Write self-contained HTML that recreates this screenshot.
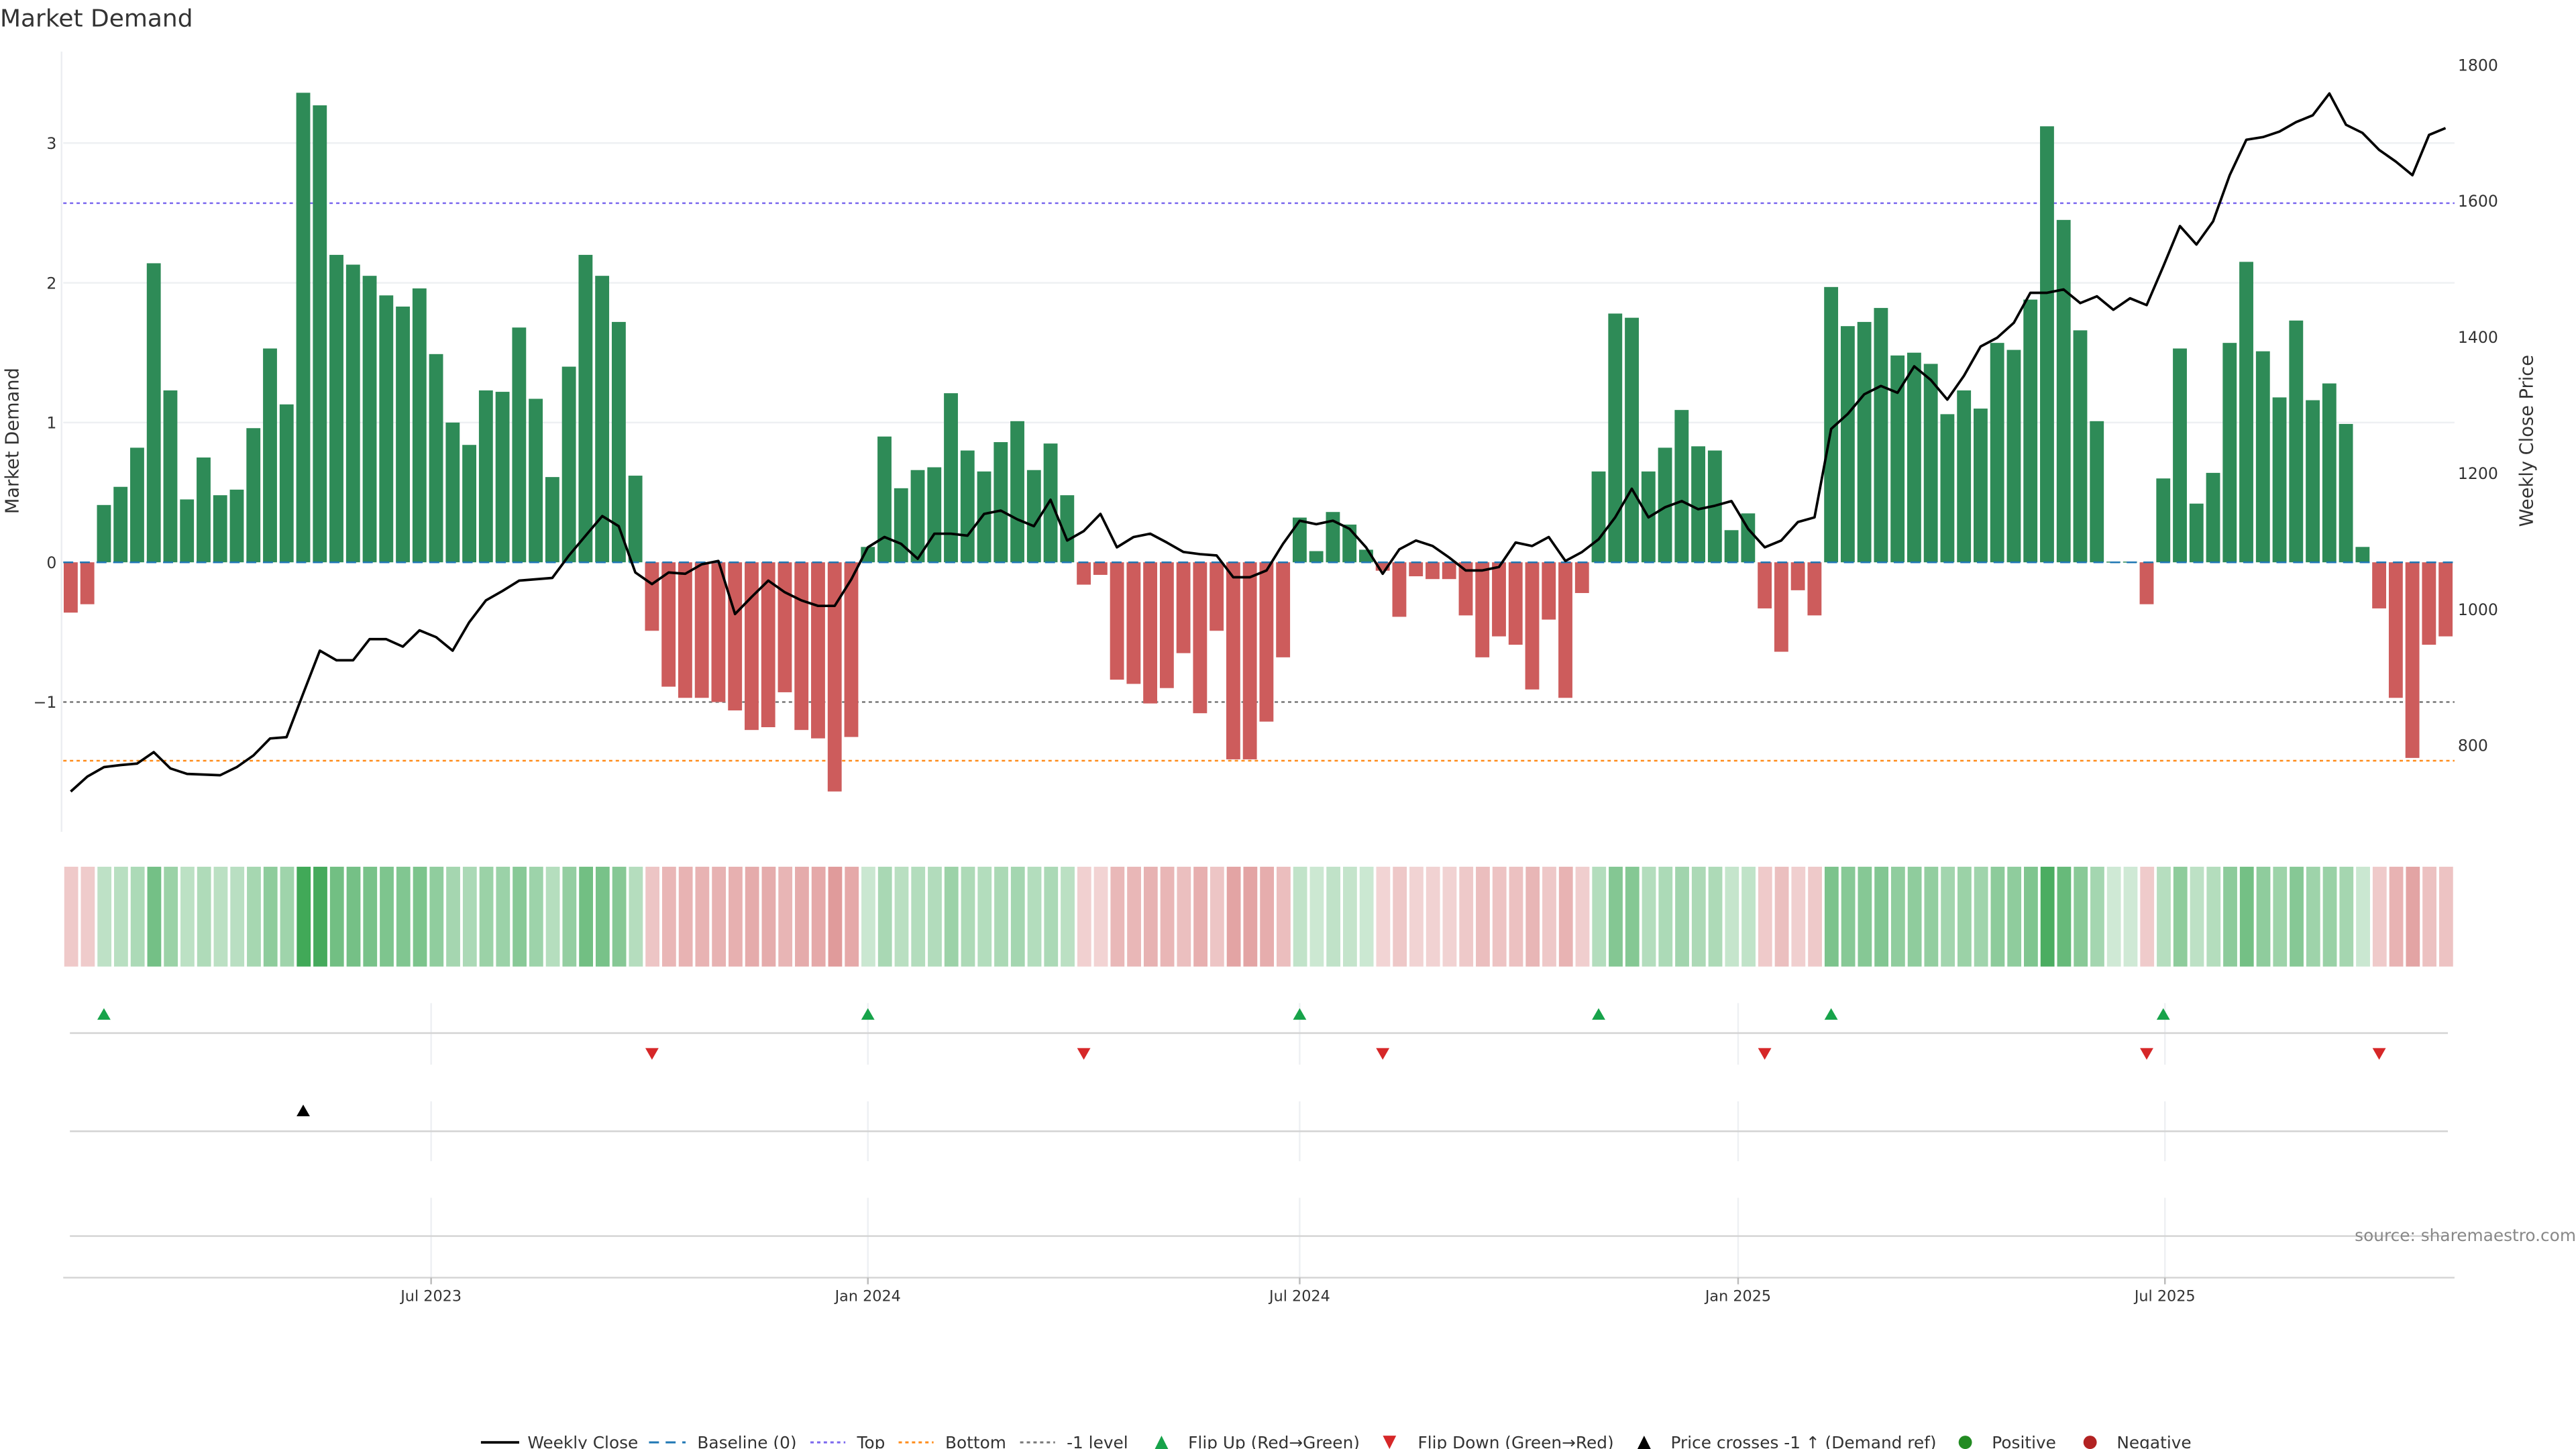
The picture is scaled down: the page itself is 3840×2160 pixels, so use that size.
<!DOCTYPE html>
<html><head><meta charset="utf-8"><title>Market Demand</title>
<style>
html,body{margin:0;padding:0;background:#fff;}
svg{display:block;font-family:"DejaVu Sans","Liberation Sans",sans-serif;}
</style></head>
<body>
<svg id="chart" width="3840" height="2160" viewBox="0 0 1548 871" preserveAspectRatio="none" xmlns="http://www.w3.org/2000/svg">
<g id="root"></g>
</svg>
<script>
// ---- data ----
const demand = [-0.36,-0.3,0.41,0.54,0.82,2.14,1.23,0.45,0.75,0.48,0.52,0.96,1.53,1.13,3.36,3.27,2.2,2.13,2.05,1.91,1.83,1.96,1.49,1.0,0.84,1.23,1.22,1.68,1.17,0.61,1.4,2.2,2.05,1.72,0.62,-0.49,-0.89,-0.97,-0.97,-1.0,-1.06,-1.2,-1.18,-0.93,-1.2,-1.26,-1.64,-1.25,0.11,0.9,0.53,0.66,0.68,1.21,0.8,0.65,0.86,1.01,0.66,0.85,0.48,-0.16,-0.09,-0.84,-0.87,-1.01,-0.9,-0.65,-1.08,-0.49,-1.41,-1.41,-1.14,-0.68,0.32,0.08,0.36,0.27,0.09,-0.06,-0.39,-0.1,-0.12,-0.12,-0.38,-0.68,-0.53,-0.59,-0.91,-0.41,-0.97,-0.22,0.65,1.78,1.75,0.65,0.82,1.09,0.83,0.8,0.23,0.35,-0.33,-0.64,-0.2,-0.38,1.97,1.69,1.72,1.82,1.48,1.5,1.42,1.06,1.23,1.1,1.57,1.52,1.88,3.12,2.45,1.66,1.01,0.005,0.005,-0.3,0.6,1.53,0.42,0.64,1.57,2.15,1.51,1.18,1.73,1.16,1.28,0.99,0.11,-0.33,-0.97,-1.4,-0.59,-0.53];
const weeklyClose = [732,754,768,771,773,790,766,758,757,756,768,785,810,812,876,939,925,925,956,956,945,969,959,939,981,1013,1027,1042,1044,1046,1079,1108,1137,1122,1054,1037,1054,1052,1066,1071,993,1018,1042,1025,1013,1005,1005,1044,1091,1106,1096,1074,1111,1111,1108,1140,1145,1132,1122,1161,1101,1115,1140,1091,1106,1111,1098,1084,1081,1079,1047,1047,1057,1096,1130,1125,1130,1118,1091,1052,1088,1101,1093,1076,1057,1057,1062,1098,1093,1106,1071,1084,1103,1135,1177,1135,1150,1159,1147,1152,1159,1118,1091,1101,1128,1135,1265,1287,1316,1328,1318,1357,1337,1308,1343,1386,1399,1421,1465,1465,1470,1450,1460,1440,1457,1447,1504,1563,1536,1570,1638,1690,1694,1702,1716,1726,1758,1712,1700,1675,1658,1638,1697,1707];
const flipUpIdx = [2,48,74,92,106,126];
const flipDownIdx = [35,61,79,102,125,139];
const priceCrossIdx = [14];
const xTickLabels = ["Jul 2023","Jan 2024","Jul 2024","Jan 2025","Jul 2025"];
const xTickIdx = [21.7,48.0,74.0,100.4,126.1];
const yTicksLeft = [3,2,1,0,-1];
const yTicksRight = [1800,1600,1400,1200,1000,800];
const topLevel = [2.57];
const bottomLevel = [-1.42];
const minusOneLevel = [-1];

// ---- scales ----
const NS="http://www.w3.org/2000/svg";
const root=document.getElementById('root');
const X0=42.5, DX=9.98;
const xs=i=>X0+i*DX;
const yL=v=>338-v*84;
const yR=p=>448-(p-800)*0.409;
const PL=38, PR=1475;
function el(tag,attrs,parent){const e=document.createElementNS(NS,tag);for(const k in attrs)e.setAttribute(k,attrs[k]);(parent||root).appendChild(e);return e;}
function txt(s,attrs,parent){const e=el('text',attrs,parent);e.textContent=s;return e;}

// title
let t=txt("Market Demand",{x:0,y:16,'font-size':14.5,fill:'#333'});



// gridlines
const grid=el('g',{});


[3,2,1].forEach(v=>{el('line',{x1:PL,x2:PR,y1:yL(v),y2:yL(v),stroke:'#eef0f3','stroke-width':1},grid);});
let la=el('line',{x1:37,x2:37,y1:31,y2:500,stroke:'#eceef1','stroke-width':1});



// left ticks
const lt=el('g',{});


yTicksLeft.forEach(v=>{txt(v<0?'\u2212'+Math.abs(v):String(v),{x:34,y:yL(v)+3.5,'font-size':9.5,fill:'#333','text-anchor':'end'},lt);});
let ylt=txt("Market Demand",{x:0,y:0,'font-size':11,fill:'#333','text-anchor':'middle',transform:'translate(11,265) rotate(-90)'});



// right ticks
const rt=el('g',{});


yTicksRight.forEach(v=>{txt(String(v),{x:1477,y:yR(v)+3.5,'font-size':9.5,fill:'#333'},rt);});
let yrt=txt("Weekly Close Price",{x:0,y:0,'font-size':11,fill:'#333','text-anchor':'middle',transform:'translate(1522,265) rotate(-90)'});



// reference lines
let l1=el('line',{x1:PL,x2:PR,y1:yL(topLevel[0]),y2:yL(topLevel[0]),stroke:'#7b68ee','stroke-width':1,'stroke-dasharray':'2,2'});


let l2=el('line',{x1:PL,x2:PR,y1:yL(minusOneLevel[0]),y2:yL(minusOneLevel[0]),stroke:'#777','stroke-width':1,'stroke-dasharray':'2,2'});


let l3=el('line',{x1:PL,x2:PR,y1:yL(bottomLevel[0]),y2:yL(bottomLevel[0]),stroke:'#ff8c1a','stroke-width':1,'stroke-dasharray':'2,2'});



// bars
const bars=el('g',{});


demand.forEach((v,i)=>{
  const y0=yL(0), y1=yL(v);
  const r=el('rect',{x:xs(i)-4.2,width:8.4,y:Math.min(y0,y1),height:Math.max(Math.abs(y1-y0),0.6),fill:v>=0?'#2e8b57':'#cd5c5c'},bars);
  
  
});
let bl=el('line',{x1:PL,x2:PR,y1:yL(0),y2:yL(0),stroke:'#1f77b4','stroke-width':1,'stroke-dasharray':'6,4'});



// price line
let pts=weeklyClose.map((p,i)=>xs(i).toFixed(1)+','+yR(p).toFixed(1)).join(' ');
let pl=el('polyline',{points:pts,fill:'none',stroke:'#000','stroke-width':1.5,'stroke-linejoin':'round'});



// heatmap strip
const hm=el('g',{});


demand.forEach((v,i)=>{
  const a=Math.min(1,0.25+0.75*Math.abs(v)/3.4);
  const base=v>=0?[63,168,87]:[205,92,92];
  const c=base.map(b=>Math.round(255-(255-b)*a));
  const r=el('rect',{x:PL+i*DX+0.6,width:DX-1.6,y:521,height:60,fill:'rgb('+c.join(',')+')'},hm);
  
  
});

// signal rows
const sig=el('g',{});


xTickIdx.forEach(ix=>{
  const x=xs(ix);
  [[603,640],[662,698],[720,768]].forEach(s=>el('line',{x1:x,x2:x,y1:s[0],y2:s[1],stroke:'#eef0f3','stroke-width':1},sig));
});
[621,680,743].forEach(y=>el('line',{x1:42,x2:1471,y1:y,y2:y,stroke:'#d3d3d3','stroke-width':1},sig));
flipUpIdx.forEach(i=>{const x=xs(i);const m=el('polygon',{points:`${x-4},613 ${x+4},613 ${x},606`,fill:'#17a34a'},sig);
  
  });
flipDownIdx.forEach(i=>{const x=xs(i);const m=el('polygon',{points:`${x-4},630 ${x+4},630 ${x},637`,fill:'#d62728'},sig);
  
  });
priceCrossIdx.forEach(i=>{const x=xs(i);const m=el('polygon',{points:`${x-4},671 ${x+4},671 ${x},664`,fill:'#000'},sig);
  
  });

// x axis
const xa=el('g',{});


el('line',{x1:PL,x2:PR,y1:768,y2:768,stroke:'#d3d3d3','stroke-width':1},xa);
xTickLabels.forEach((s,k)=>{const x=xs(xTickIdx[k]);el('line',{x1:x,x2:x,y1:768,y2:772,stroke:'#bbb','stroke-width':1},xa);
  txt(s,{x:x,y:782,'font-size':9,fill:'#333','text-anchor':'middle'},xa);});

let src=txt("source: sharemaestro.com",{x:1548,y:746,'font-size':10,fill:'#888','text-anchor':'end'});



// legend
const lg=el('g',{'font-size':10,fill:'#333'});


const LY=867;
function lt2(s,x){return txt(s,{x:x,y:LY+3.5,fill:'#333'},lg);}
el('line',{x1:289,x2:312,y1:LY,y2:LY,stroke:'#000','stroke-width':1.5},lg); lt2("Weekly Close",317);
el('line',{x1:390,x2:412,y1:LY,y2:LY,stroke:'#1f77b4','stroke-width':1.2,'stroke-dasharray':'6,4'},lg); lt2("Baseline (0)",419);
el('line',{x1:487,x2:508,y1:LY,y2:LY,stroke:'#7b68ee','stroke-width':1.2,'stroke-dasharray':'2,2'},lg); lt2("Top",515);
el('line',{x1:540,x2:561,y1:LY,y2:LY,stroke:'#ff8c1a','stroke-width':1.2,'stroke-dasharray':'2,2'},lg); lt2("Bottom",568);
el('line',{x1:613,x2:634,y1:LY,y2:LY,stroke:'#777','stroke-width':1.2,'stroke-dasharray':'2,2'},lg); lt2("-1 level",641);
el('polygon',{points:'694,871 702,871 698,863',fill:'#17a34a'},lg); lt2("Flip Up (Red\u2192Green)",714);
el('polygon',{points:'831,863 839,863 835,871',fill:'#d62728'},lg); lt2("Flip Down (Green\u2192Red)",852);
el('polygon',{points:'984,871 992,871 988,863',fill:'#000'},lg); lt2("Price crosses -1 \u2191 (Demand ref)",1004);
el('circle',{cx:1181,cy:LY,r:4,fill:'#228b22'},lg); lt2("Positive",1197);
el('circle',{cx:1256,cy:LY,r:4,fill:'#b22222'},lg); lt2("Negative",1272);
</script>
</body></html>
